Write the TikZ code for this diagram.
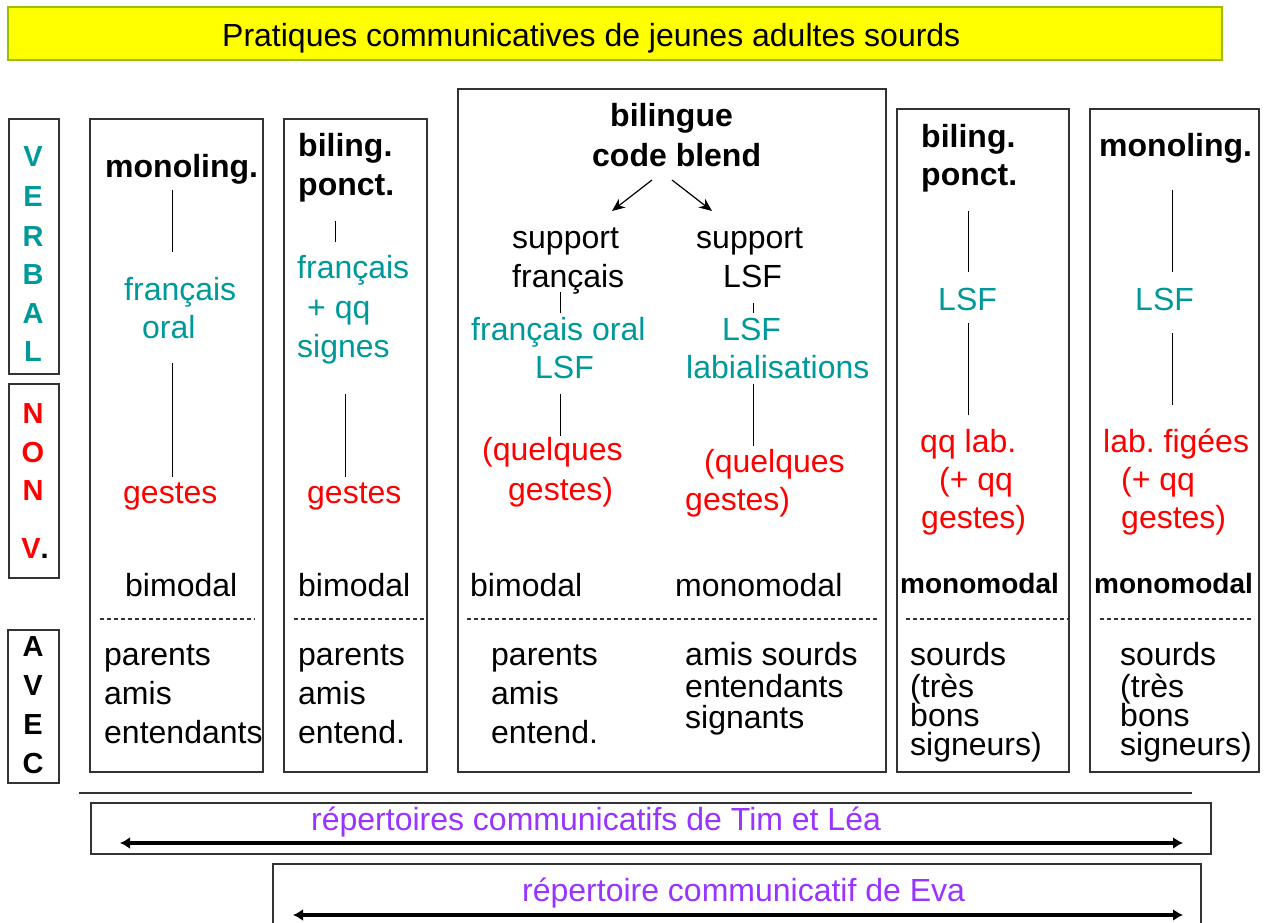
\documentclass[tikz,border=0pt]{standalone}
\usepackage{fontspec}
\setmainfont{Liberation Sans}
\usetikzlibrary{arrows.meta}
\definecolor{tealc}{HTML}{009999}
\definecolor{redc}{HTML}{FF0000}
\definecolor{purp}{HTML}{9933FF}
\definecolor{titlebd}{HTML}{99C000}
\definecolor{titlefill}{HTML}{FFFF00}
\definecolor{boxc}{HTML}{333333}
\newcommand\fsbody{\fontsize{32}{39}\selectfont}
\newcommand\fssmall{\fontsize{28}{34}\selectfont}
\newcommand\fslet{\fontsize{29}{35}\selectfont}
\frenchspacing
\begin{document}
\frenchspacing
\begin{tikzpicture}[x=1pt,y=-1pt,
  txt/.style={inner sep=0pt,anchor=base west,font=\fsbody},
  hd/.style={txt,font=\fsbody\bfseries},
  tl/.style={txt,text=tealc},
  rd/.style={txt,text=redc},
  pu/.style={txt,text=purp},
  mm/.style={txt,font=\fssmall\bfseries},
  let/.style={inner sep=0pt,anchor=base,font=\fslet\bfseries},
  frame/.style={draw=boxc,line width=1.5pt},
  conn/.style={draw=black,line width=1pt},
  dsh/.style={draw=boxc,line width=1.2pt,dash pattern=on 4pt off 3pt},
  arr/.style={draw=black,line width=1.2pt,-{Stealth[length=13pt,width=11pt]}},
  darr/.style={draw=black,line width=3.5pt,{Latex[length=10pt,width=12pt]}-{Latex[length=10pt,width=12pt]}}
]
\useasboundingbox (0,0) rectangle (1269,923);
\fill[white] (0,0) rectangle (1269,923);

% title
\draw[fill=titlefill,draw=titlebd,line width=1.5pt] (8,7) rectangle (1222,60);
\node[txt] (title) at (222,47) {Pratiques communicatives de jeunes adultes sourds};

% left label boxes
\draw[frame] (9,119) rectangle (59,374);
\draw[frame] (9,384) rectangle (59,578);
\draw[frame] (8,630) rectangle (59,783);
\node[let,text=tealc] (lv1) at (33,167) {V};
\node[let,text=tealc] (lv2) at (33,206) {E};
\node[let,text=tealc] (lv3) at (33,246) {R};
\node[let,text=tealc] (lv4) at (33,284) {B};
\node[let,text=tealc] (lv5) at (33,323) {A};
\node[let,text=tealc] (lv6) at (33,361) {L};
\node[let,text=redc] (ln1) at (33,423) {N};
\node[let,text=redc] (ln2) at (33,462) {O};
\node[let,text=redc] (ln3) at (33,500) {N};
\node[let] (ln4) at (35,558) {\textcolor{redc}{V}.};
\node[let] (la1) at (33,656) {A};
\node[let] (la2) at (33,695) {V};
\node[let] (la3) at (33,734) {E};
\node[let] (la4) at (33,773) {C};

% column frames
\draw[frame] (90,119) rectangle (263,772);
\draw[frame] (284,119) rectangle (427,772);
\draw[frame] (458,89) rectangle (886,772);
\draw[frame] (897,109) rectangle (1069,772);
\draw[frame] (1090,109) rectangle (1259,772);

% column 1
\node[hd] (c1h) at (105,177) {monoling.};
\node[tl] (c1v1) at (124,300) {français};
\node[tl] (c1v2) at (142,338) {oral};
\node[rd] (c1g) at (123,503) {gestes};
\node[txt] (c1m) at (125,596) {bimodal};
\node[txt] (c1a1) at (104,665) {parents};
\node[txt] (c1a2) at (104,704) {amis};
\node[txt] (c1a3) at (104,743) {entendants};
\coordinate (k1a) at (172,190); \coordinate (k1b) at (172,252);
\coordinate (k1c) at (172,363); \coordinate (k1d) at (172,477);
\draw[conn] (k1a) -- (k1b);
\draw[conn] (k1c) -- (k1d);
\coordinate (d1a) at (100,619); \coordinate (d1b) at (255,619);
\draw[dsh] (d1a) -- (d1b);

% column 2
\node[hd] (c2h1) at (298,157) {biling.};
\node[hd] (c2h2) at (298,195) {ponct.};
\node[tl] (c2v1) at (297,278) {français};
\node[tl] (c2v2) at (307,318) {+ qq};
\node[tl] (c2v3) at (297,357) {signes};
\node[rd] (c2g) at (307,503) {gestes};
\node[txt] (c2m) at (298,596) {bimodal};
\node[txt] (c2a1) at (298,665) {parents};
\node[txt] (c2a2) at (298,704) {amis};
\node[txt] (c2a3) at (298,743) {entend.};
\coordinate (k2a) at (335,221); \coordinate (k2b) at (335,242);
\coordinate (k2c) at (345,394); \coordinate (k2d) at (345,477);
\draw[conn] (k2a) -- (k2b);
\draw[conn] (k2c) -- (k2d);
\coordinate (d2a) at (294,619); \coordinate (d2b) at (427,619);
\draw[dsh] (d2a) -- (d2b);

% column 3
\node[hd] (c3h1) at (610,127) {bilingue};
\node[hd] (c3h2) at (592,166) {code blend};
\node[txt] (c3s1) at (512,248) {support};
\node[txt] (c3s2) at (512,287) {français};
\node[txt] (c3t1) at (696,248) {support};
\node[txt] (c3t2) at (723,287) {LSF};
\node[tl] (c3v1) at (471,340) {français oral};
\node[tl] (c3v2) at (535,378) {LSF};
\node[tl] (c3w1) at (722,340) {LSF};
\node[tl] (c3w2) at (686,378) {labialisations};
\node[rd] (c3g1) at (482,460) {(quelques};
\node[rd] (c3g2) at (508,500) {gestes)};
\node[rd] (c3q1) at (704,472) {(quelques};
\node[rd] (c3q2) at (685,510) {gestes)};
\node[txt] (c3m1) at (470,596) {bimodal};
\node[txt] (c3m2) at (675,596) {monomodal};
\node[txt] (c3a1) at (491,665) {parents};
\node[txt] (c3a2) at (491,704) {amis};
\node[txt] (c3a3) at (491,743) {entend.};
\node[txt] (c3b1) at (685,665) {amis sourds};
\node[txt] (c3b2) at (685,697) {entendants};
\node[txt] (c3b3) at (685,728) {signants};
\coordinate (a3a) at (652,180); \coordinate (a3b) at (612,211);
\coordinate (a3c) at (672,180); \coordinate (a3d) at (712,211);
\draw[arr] (a3a) -- (a3b);
\draw[arr] (a3c) -- (a3d);
\coordinate (k3a) at (560,292); \coordinate (k3b) at (560,313);
\coordinate (k3c) at (753,303); \coordinate (k3d) at (753,313);
\coordinate (k3e) at (560,394); \coordinate (k3f) at (560,436);
\coordinate (k3g) at (753,384); \coordinate (k3h) at (753,446);
\draw[conn] (k3a) -- (k3b);
\draw[conn] (k3c) -- (k3d);
\draw[conn] (k3e) -- (k3f);
\draw[conn] (k3g) -- (k3h);
\coordinate (d3a) at (467,619); \coordinate (d3b) at (877,619);
\draw[dsh] (d3a) -- (d3b);

% column 4
\node[hd] (c4h1) at (921,147) {biling.};
\node[hd] (c4h2) at (921,185) {ponct.};
\node[tl] (c4v) at (938,310) {LSF};
\node[rd] (c4g1) at (920,452) {qq lab.};
\node[rd] (c4g2) at (939,490) {(+ qq};
\node[rd] (c4g3) at (921,528) {gestes)};
\node[mm] (c4m) at (900,593) {monomodal};
\node[txt] (c4a1) at (910,665) {sourds};
\node[txt] (c4a2) at (910,697) {(très};
\node[txt] (c4a3) at (910,726) {bons};
\node[txt] (c4a4) at (910,755) {signeurs)};
\coordinate (k4a) at (968,211); \coordinate (k4b) at (968,272);
\coordinate (k4c) at (968,323); \coordinate (k4d) at (968,415);
\draw[conn] (k4a) -- (k4b);
\draw[conn] (k4c) -- (k4d);
\coordinate (d4a) at (906,619); \coordinate (d4b) at (1069,619);
\draw[dsh] (d4a) -- (d4b);

% column 5
\node[hd] (c5h) at (1099,157) {monoling.};
\node[tl] (c5v) at (1135,310) {LSF};
\node[rd] (c5g1) at (1103,452) {lab. figées};
\node[rd] (c5g2) at (1121,490) {(+ qq};
\node[rd] (c5g3) at (1121,528) {gestes)};
\node[mm] (c5m) at (1094,593) {monomodal};
\node[txt] (c5a1) at (1120,665) {sourds};
\node[txt] (c5a2) at (1120,697) {(très};
\node[txt] (c5a3) at (1120,726) {bons};
\node[txt] (c5a4) at (1120,755) {signeurs)};
\coordinate (k5a) at (1172,190); \coordinate (k5b) at (1172,272);
\coordinate (k5c) at (1172,333); \coordinate (k5d) at (1172,405);
\draw[conn] (k5a) -- (k5b);
\draw[conn] (k5c) -- (k5d);
\coordinate (d5a) at (1100,619); \coordinate (d5b) at (1254,619);
\draw[dsh] (d5a) -- (d5b);

% bottom
\coordinate (sepa) at (79,793); \coordinate (sepb) at (1192,793);
\draw[draw=boxc,line width=1.5pt] (sepa) -- (sepb);
\draw[frame] (91,803) rectangle (1211,854);
\node[pu] (rep1) at (311,830) {répertoires communicatifs de Tim et Léa};
\coordinate (r1a) at (120,843); \coordinate (r1b) at (1183,843);
\draw[darr] (r1a) -- (r1b);
\draw[frame] (273,930) -- (273,864) -- (1201,864) -- (1201,930);
\node[pu] (rep2) at (522,901) {répertoire communicatif de Eva};
\coordinate (r2a) at (293,915); \coordinate (r2b) at (1183,915);
\draw[darr] (r2a) -- (r2b);
\end{tikzpicture}
\end{document}
